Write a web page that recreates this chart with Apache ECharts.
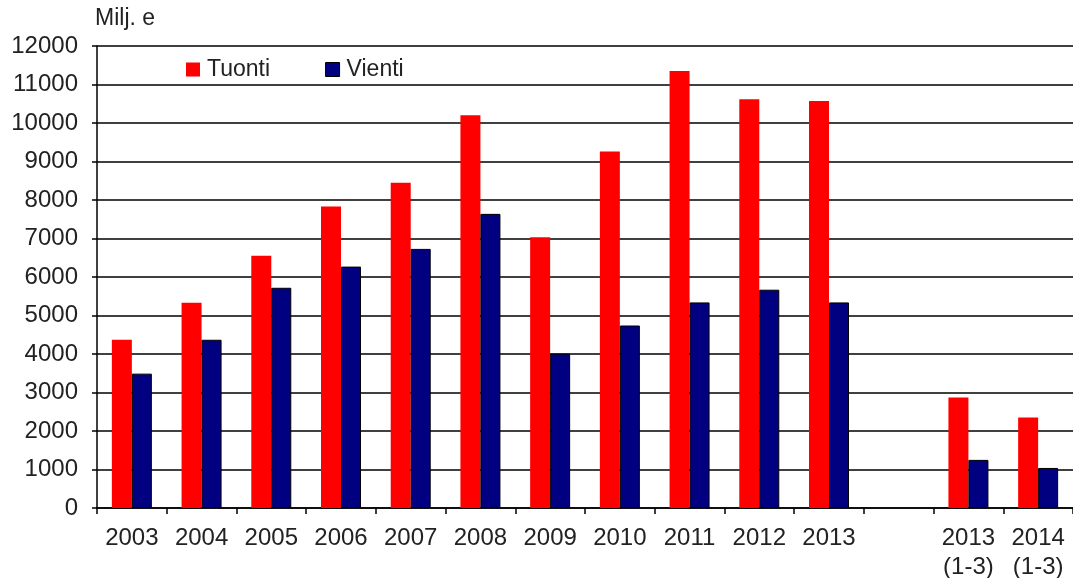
<!DOCTYPE html>
<html>
<head>
<meta charset="utf-8">
<script src="https://cdn.jsdelivr.net/npm/echarts@6/dist/echarts.min.js"></script>
<style>
  html, body { margin: 0; padding: 0; background: #fff; }
  #chart { width: 1073px; height: 578px; }
</style>
</head>
<body>
<div id="chart"></div>
<script>
// Import (Tuonti) and export (Vienti), million euros
const categories = ['2003', '2004', '2005', '2006', '2007', '2008', '2009', '2010', '2011', '2012', '2013', '', '2013\n(1-3)', '2014\n(1-3)'];
const tuonti = [4370, 5330, 6550, 7830, 8450, 10200, 7030, 9260, 11350, 10620, 10570, null, 2870, 2350];
const vienti = [3490, 4370, 5720, 6270, 6730, 7640, 4010, 4740, 5340, 5670, 5340, null, 1250, 1040];
const yTicks = { min: 0, max: 12000, interval: 1000 };

const FONT = '"Liberation Sans", Arial, sans-serif';
const TXT = '#222';

const chart = echarts.init(document.getElementById('chart'));
chart.setOption({
  animation: false,
  backgroundColor: '#fff',
  grid: { left: 97, right: 0, top: 46, bottom: 70, containLabel: false, outerBoundsMode: 'none' },
  legend: {
    left: 181, top: 53,
    itemWidth: 14, itemHeight: 14, itemGap: 55,
    icon: 'rect',
    textStyle: { fontFamily: FONT, fontSize: 23, color: TXT, padding: [2, 0, 0, 2] },
    data: [
      { name: 'Tuonti' },
      { name: 'Vienti', itemStyle: { borderColor: '#000', borderWidth: 1 } }
    ]
  },
  graphic: [{
    type: 'text', left: 95, top: 7,
    style: { text: 'Milj. e', font: '23px ' + FONT, fill: TXT }
  }],
  xAxis: {
    type: 'category',
    data: categories,
    axisLine: { lineStyle: { color: '#000', width: 1.5 } },
    axisTick: { show: true, alignWithLabel: false, length: 6, lineStyle: { color: '#000', width: 1.5 } },
    axisLabel: { fontFamily: FONT, fontSize: 24, color: TXT, margin: 16, lineHeight: 29, interval: 0 }
  },
  yAxis: {
    type: 'value',
    min: yTicks.min, max: yTicks.max, interval: yTicks.interval,
    axisLine: { show: true, lineStyle: { color: '#000', width: 1.5 } },
    axisTick: { show: true, length: 5, lineStyle: { color: '#000', width: 1.5 } },
    axisLabel: { fontFamily: FONT, fontSize: 24, color: TXT, margin: 19, formatter: v => String(v) },
    splitLine: { show: true, lineStyle: { color: '#000', width: 1.5 } }
  },
  series: [
    {
      name: 'Tuonti', type: 'bar', data: tuonti,
      barWidth: 20, barGap: '0%',
      itemStyle: { color: '#ff0000' }
    },
    {
      name: 'Vienti', type: 'bar', data: vienti,
      barWidth: 20,
      itemStyle: { color: '#000080', borderColor: '#000', borderWidth: 1 }
    }
  ]
});
</script>
</body>
</html>
